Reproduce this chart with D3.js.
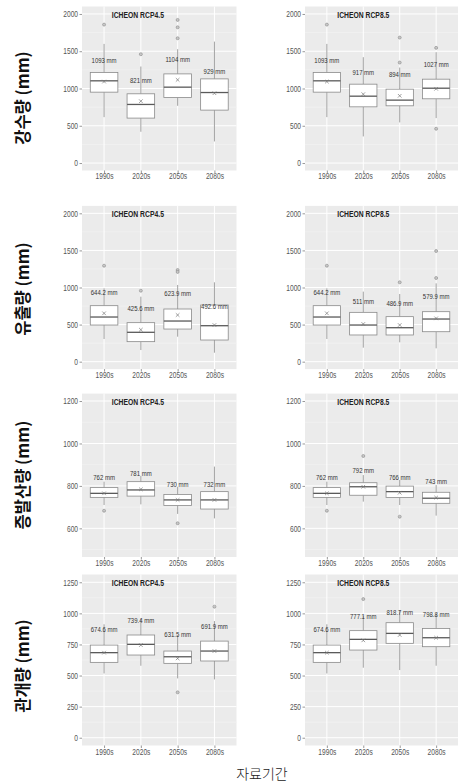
<!DOCTYPE html>
<html><head><meta charset="utf-8">
<script src="https://cdn.jsdelivr.net/npm/d3@7"></script>
<style>body{margin:0;background:#fff}svg{display:block}</style>
</head><body>
<svg id="chart" width="469" height="783"></svg>
<script>
// ---- data ----
const periods = ["1990s", "2020s", "2050s", "2080s"];
const scenarios = ["ICHEON RCP4.5", "ICHEON RCP8.5"];
const variables = ["강수량 (mm)", "유출량 (mm)", "증발산량 (mm)", "관개량 (mm)"];
const xTitle = "자료기간";

// each row: [lower whisker, Q1, median, Q3, upper whisker, mean]
const precip45 = [[616, 951, 1103, 1214, 1598, 1093], [420, 603, 786, 929, 1295, 830], [768, 879, 1018, 1196, 1527, 1116], [290, 710, 946, 1129, 1629, 937]];
const precip45Out = [[1857], [1460], [1920, 1821, 1674], []];
const precip45Label = ["1093 mm", "821 mm", "1104 mm", "929 mm"];
const precip45LabelAt = [1384, 1116, 1393, 1228];

const precip85 = [[616, 951, 1103, 1214, 1598, 1093], [357, 754, 897, 1058, 1420, 924], [545, 768, 844, 991, 1281, 902], [603, 862, 1004, 1125, 1487, 996]];
const precip85Out = [[1857], [], [1683, 1348], [1545, 460]];
const precip85Label = ["1093 mm", "917 mm", "894 mm", "1027 mm"];
const precip85LabelAt = [1384, 1214, 1196, 1326];

const runoff45 = [[306, 494, 602, 755, 989, 652], [157, 270, 396, 526, 876, 431], [337, 440, 548, 710, 1034, 629], [121, 292, 485, 764, 1070, 494]];
const runoff45Out = [[1294], [957], [1236, 1210], []];
const runoff45Label = ["644.2 mm", "425.6 mm", "623.9 mm", "492.6 mm"];
const runoff45LabelAt = [935, 723, 921, 742];

const runoff85 = [[306, 494, 602, 755, 989, 652], [189, 360, 494, 665, 944, 508], [261, 360, 458, 607, 912, 494], [180, 404, 575, 674, 1056, 584]];
const runoff85Out = [[1294], [], [1070], [1492, 1128]];
const runoff85Label = ["644.2 mm", "511 mm", "486.9 mm", "579.9 mm"];
const runoff85LabelAt = [935, 809, 787, 876];

const et45 = [[710, 746, 765, 792, 820, 765], [713, 752, 781, 820, 847, 784], [668, 708, 734, 760, 796, 734], [647, 691, 734, 773, 891, 734]];
const et45Out = [[683], [], [624], []];
const et45Label = ["762 mm", "781 mm", "730 mm", "732 mm"];
const et45LabelAt = [843, 862, 809, 809];

const et85 = [[710, 746, 765, 792, 820, 765], [726, 756, 796, 815, 851, 796], [710, 745, 773, 799, 828, 768], [660, 718, 742, 770, 804, 745]];
const et85Out = [[683], [941], [655], []];
const et85Label = ["762 mm", "792 mm", "766 mm", "743 mm"];
const et85LabelAt = [843, 872, 843, 823];

const irr45 = [[517, 606, 684, 745, 912, 684], [579, 665, 751, 826, 960, 745], [477, 598, 651, 697, 826, 638], [469, 617, 697, 777, 938, 697]];
const irr45Out = [[], [], [365], [1054]];
const irr45Label = ["674.6 mm", "739.4 mm", "631.5 mm", "691.9 mm"];
const irr45LabelAt = [874, 941, 831, 893];

const irr85 = [[517, 606, 684, 745, 912, 684], [563, 705, 791, 861, 981, 783], [544, 759, 839, 925, 1027, 826], [579, 732, 804, 879, 1000, 804]];
const irr85Out = [[], [1115], [], []];
const irr85Label = ["674.6 mm", "777.1 mm", "818.7 mm", "798.8 mm"];
const irr85LabelAt = [874, 973, 1013, 995];

const ticksPrecip = [0, 500, 1000, 1500, 2000];
const ticksRunoff = [0, 500, 1000, 1500, 2000];
const ticksEt = [600, 800, 1000, 1200];
const ticksIrr = [0, 250, 500, 750, 1000, 1250];
const minorPrecip = [250, 750, 1250, 1750];
const minorRunoff = [250, 750, 1250, 1750];
const minorEt = [500, 700, 900, 1100];
const minorIrr = [125, 375, 625, 875, 1125];
const limitsPrecip = [0, 2000];
const limitsRunoff = [0, 2000];
const limitsEt = [500, 1200];
const limitsIrr = [0, 1250];

// ---- layout ----
const svg = d3.select("#chart");
const SX = 0.8; // horizontal squeeze of the source image
const colX = [[82, 236.5], [305, 458]];
const rowY = [[6.5, 170.5], [205.9, 369.1], [393.6, 557], [574.5, 745.5]];
const yTitleY = [98, 289, 475, 666];

const rows = [
  {ticks: ticksPrecip, minor: minorPrecip, lim: limitsPrecip,
   panels: [[precip45, precip45Out, precip45Label, precip45LabelAt], [precip85, precip85Out, precip85Label, precip85LabelAt]]},
  {ticks: ticksRunoff, minor: minorRunoff, lim: limitsRunoff,
   panels: [[runoff45, runoff45Out, runoff45Label, runoff45LabelAt], [runoff85, runoff85Out, runoff85Label, runoff85LabelAt]]},
  {ticks: ticksEt, minor: minorEt, lim: limitsEt,
   panels: [[et45, et45Out, et45Label, et45LabelAt], [et85, et85Out, et85Label, et85LabelAt]]},
  {ticks: ticksIrr, minor: minorIrr, lim: limitsIrr,
   panels: [[irr45, irr45Out, irr45Label, irr45LabelAt], [irr85, irr85Out, irr85Label, irr85LabelAt]]}
];

function txt(g, x, y, s, o) {
  o = o || {};
  return g.append("text")
    .attr("transform", `translate(${x},${y}) scale(${o.sx ?? SX},1)`)
    .attr("text-anchor", o.anchor || "middle")
    .attr("dominant-baseline", "central")
    .attr("font-family", o.family || "Liberation Sans, Arial, sans-serif")
    .attr("font-size", o.size || 8)
    .attr("font-weight", o.weight || "normal")
    .attr("fill", o.fill || "#4d4d4d")
    .text(s);
}

rows.forEach((row, ri) => {
  const [top, bottom] = [rowY[ri][0], rowY[ri][1]];
  const span = row.lim[1] - row.lim[0];
  const y = d3.scaleLinear().domain([row.lim[0] - 0.05 * span, row.lim[1] + 0.05 * span]).range([bottom, top]);

  // row title (y axis)
  svg.append("text")
    .attr("transform", `translate(22,${yTitleY[ri]}) rotate(-90)`)
    .attr("text-anchor", "middle").attr("dominant-baseline", "central")
    .attr("font-family", "Noto Sans CJK KR, sans-serif").attr("font-weight", "bold")
    .attr("font-size", 16.5).attr("fill", "#111")
    .text(variables[ri]);

  row.panels.forEach((p, ci) => {
    const [stats, outs, labels, labelAt] = p;
    const x = d3.scalePoint().domain(periods).range(colX[ci]).padding(0.6);
    const bw = x.step() * 0.75;
    const g = svg.append("g");

    // background
    g.append("rect").attr("x", colX[ci][0]).attr("y", top)
      .attr("width", colX[ci][1] - colX[ci][0]).attr("height", bottom - top).attr("fill", "#ebebeb");
    // minor grid
    g.selectAll(".mn").data(row.minor).join("line")
      .attr("x1", colX[ci][0]).attr("x2", colX[ci][1])
      .attr("y1", d => y(d)).attr("y2", d => y(d))
      .attr("stroke", "#f6f6f6").attr("stroke-width", 0.5);
    // major grid
    g.selectAll(".mj").data(row.ticks).join("line")
      .attr("x1", colX[ci][0]).attr("x2", colX[ci][1])
      .attr("y1", d => y(d)).attr("y2", d => y(d))
      .attr("stroke", "#fff").attr("stroke-width", 1);
    g.selectAll(".vg").data(periods).join("line")
      .attr("x1", d => x(d)).attr("x2", d => x(d))
      .attr("y1", top).attr("y2", bottom)
      .attr("stroke", "#fff").attr("stroke-width", 1);

    // axes (ticks + labels)
    const ya = d3.axisLeft(y).tickValues(row.ticks).tickSize(2.5).tickPadding(1.5).tickFormat(d3.format("d"));
    const yg = g.append("g").attr("transform", `translate(${colX[ci][0]},0)`).call(ya);
    yg.select(".domain").remove();
    yg.selectAll(".tick line").attr("stroke", "#999");
    yg.selectAll(".tick text")
      .attr("x", null).attr("dy", null).attr("y", null)
      .attr("transform", `translate(-4,0) scale(${SX},1)`)
      .attr("dominant-baseline", "central")
      .attr("font-family", "Liberation Sans, Arial, sans-serif").attr("font-size", 8.3).attr("fill", "#555");
    const xa = d3.axisBottom(x).tickSize(2.5).tickPadding(1);
    const xg = g.append("g").attr("transform", `translate(0,${bottom})`).call(xa);
    xg.select(".domain").remove();
    xg.selectAll(".tick line").attr("stroke", "#999");
    xg.selectAll(".tick text").attr("y", null).attr("dy", null)
      .attr("transform", `translate(0,${ri === 0 ? 6 : 6.5}) scale(${SX},1)`)
      .attr("dominant-baseline", "central")
      .attr("font-family", "Liberation Sans, Arial, sans-serif").attr("font-size", 8.3).attr("fill", "#555");

    // boxes
    const bx = g.selectAll(".bx").data(periods.map((per, i) => ({per, s: stats[i], o: outs[i], l: labels[i], la: labelAt[i]}))).join("g");
    bx.append("line").attr("x1", d => x(d.per)).attr("x2", d => x(d.per))
      .attr("y1", d => y(d.s[4])).attr("y2", d => y(d.s[3])).attr("stroke", "#8a8a8a").attr("stroke-width", 0.8);
    bx.append("line").attr("x1", d => x(d.per)).attr("x2", d => x(d.per))
      .attr("y1", d => y(d.s[1])).attr("y2", d => y(d.s[0])).attr("stroke", "#8a8a8a").attr("stroke-width", 0.8);
    bx.append("rect").attr("x", d => x(d.per) - bw / 2).attr("width", bw)
      .attr("y", d => y(d.s[3])).attr("height", d => y(d.s[1]) - y(d.s[3]))
      .attr("fill", "#fff").attr("stroke", "#8a8a8a").attr("stroke-width", 0.8);
    bx.append("line").attr("x1", d => x(d.per) - bw / 2).attr("x2", d => x(d.per) + bw / 2)
      .attr("y1", d => y(d.s[2])).attr("y2", d => y(d.s[2])).attr("stroke", "#5a5a5a").attr("stroke-width", 1.3);
    // mean ×
    bx.append("path").attr("d", d => {
      const cx = x(d.per), cy = y(d.s[5]), r = 1.8;
      return `M${cx - r},${cy - r}L${cx + r},${cy + r}M${cx - r},${cy + r}L${cx + r},${cy - r}`;
    }).attr("stroke", "#777").attr("stroke-width", 0.7).attr("fill", "none");
    // outliers
    bx.each(function(d) {
      d3.select(this).selectAll("circle").data(d.o).join("circle")
        .attr("cx", x(d.per)).attr("cy", v => y(v)).attr("r", 1.5)
        .attr("fill", "#c8c8c8").attr("stroke", "#8a8a8a").attr("stroke-width", 0.6);
    });
    // value labels
    bx.each(function(d) {
      txt(d3.select(this), x(d.per), y(d.la), d.l, {size: 7.5, fill: "#333"});
    });

    // panel title
    txt(g, x(periods[1]) - 3 + ci * 3, top + 8.5, scenarios[ci], {size: 8.5, weight: "bold", fill: "#222"});
  });
});

// x axis title
svg.append("text").attr("x", 262).attr("y", 773)
  .attr("text-anchor", "middle").attr("dominant-baseline", "central")
  .attr("font-family", "Noto Sans CJK KR, sans-serif").attr("font-weight", 300)
  .attr("font-size", 14).attr("fill", "#222").text(xTitle);
</script>
</body></html>
